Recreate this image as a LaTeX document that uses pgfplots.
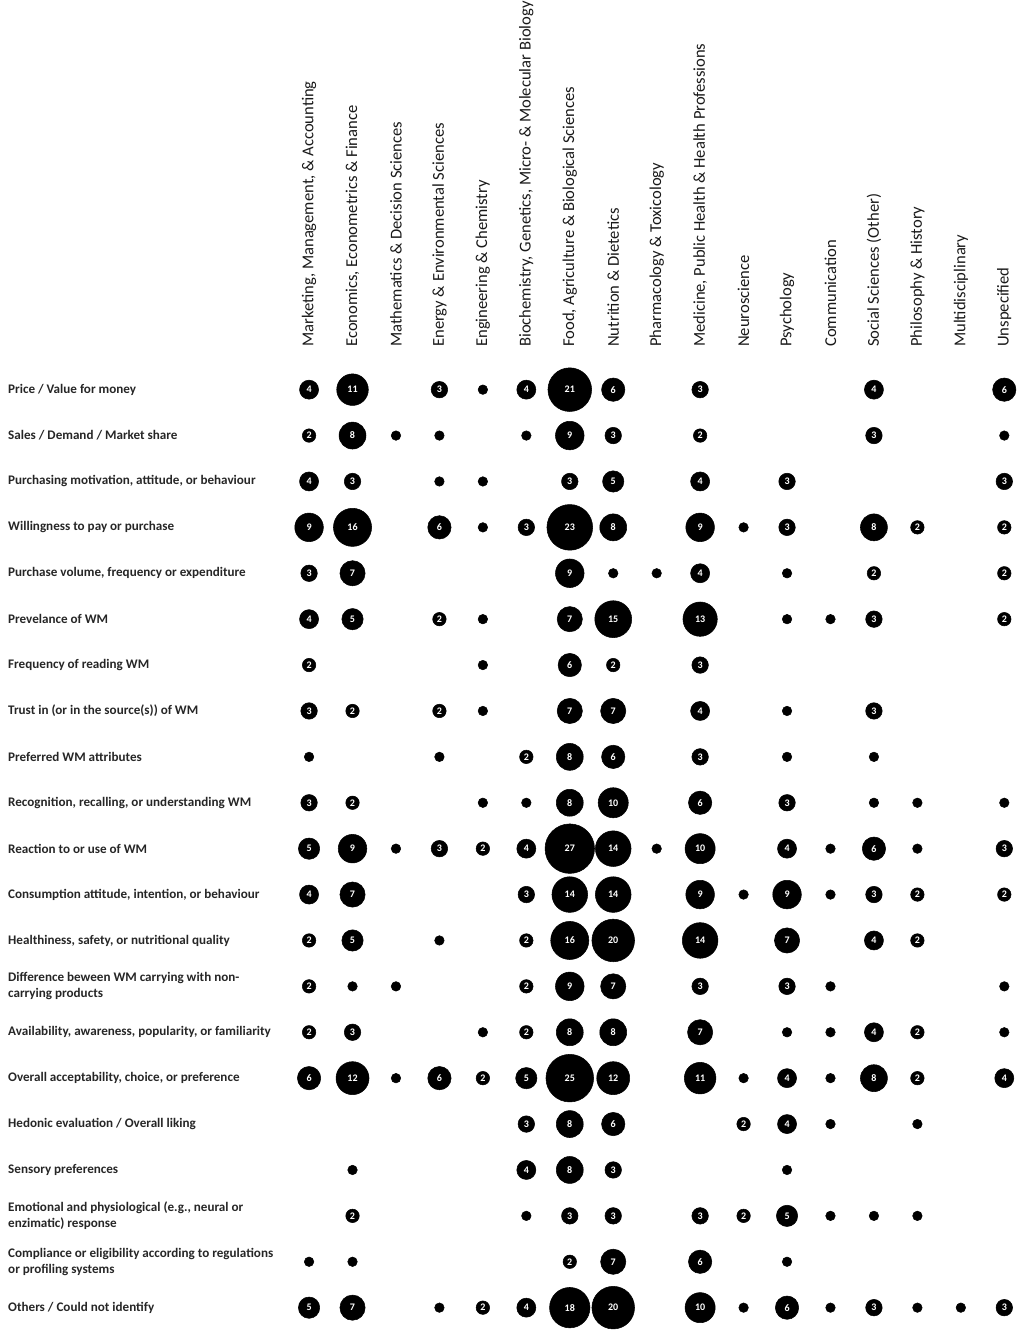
\documentclass[border=0pt]{standalone}
\usepackage{fontspec}
\setmainfont{Carlito}
\usepackage{pgfplots}
\usepackage{pgfplotstable}
\pgfplotsset{compat=1.18}
\pgfplotstableread{
x y v
0 0 4
1 0 11
3 0 3
4 0 1
5 0 4
6 0 21
7 0 6
9 0 3
13 0 4
16 0 6
0 1 2
1 1 8
2 1 1
3 1 1
5 1 1
6 1 9
7 1 3
9 1 2
13 1 3
16 1 1
0 2 4
1 2 3
3 2 1
4 2 1
6 2 3
7 2 5
9 2 4
11 2 3
16 2 3
0 3 9
1 3 16
3 3 6
4 3 1
5 3 3
6 3 23
7 3 8
9 3 9
10 3 1
11 3 3
13 3 8
14 3 2
16 3 2
0 4 3
1 4 7
6 4 9
7 4 1
8 4 1
9 4 4
11 4 1
13 4 2
16 4 2
0 5 4
1 5 5
3 5 2
4 5 1
6 5 7
7 5 15
9 5 13
11 5 1
12 5 1
13 5 3
16 5 2
0 6 2
4 6 1
6 6 6
7 6 2
9 6 3
0 7 3
1 7 2
3 7 2
4 7 1
6 7 7
7 7 7
9 7 4
11 7 1
13 7 3
0 8 1
3 8 1
5 8 2
6 8 8
7 8 6
9 8 3
11 8 1
13 8 1
0 9 3
1 9 2
4 9 1
5 9 1
6 9 8
7 9 10
9 9 6
11 9 3
13 9 1
14 9 1
16 9 1
0 10 5
1 10 9
2 10 1
3 10 3
4 10 2
5 10 4
6 10 27
7 10 14
8 10 1
9 10 10
11 10 4
12 10 1
13 10 6
14 10 1
16 10 3
0 11 4
1 11 7
5 11 3
6 11 14
7 11 14
9 11 9
10 11 1
11 11 9
12 11 1
13 11 3
14 11 2
16 11 2
0 12 2
1 12 5
3 12 1
5 12 2
6 12 16
7 12 20
9 12 14
11 12 7
13 12 4
14 12 2
0 13 2
1 13 1
2 13 1
5 13 2
6 13 9
7 13 7
9 13 3
11 13 3
12 13 1
16 13 1
0 14 2
1 14 3
4 14 1
5 14 2
6 14 8
7 14 8
9 14 7
11 14 1
12 14 1
13 14 4
14 14 2
16 14 1
0 15 6
1 15 12
2 15 1
3 15 6
4 15 2
5 15 5
6 15 25
7 15 12
9 15 11
10 15 1
11 15 4
12 15 1
13 15 8
14 15 2
16 15 4
5 16 3
6 16 8
7 16 6
10 16 2
11 16 4
12 16 1
14 16 1
1 17 1
5 17 4
6 17 8
7 17 3
11 17 1
1 18 2
5 18 1
6 18 3
7 18 3
9 18 3
10 18 2
11 18 5
12 18 1
13 18 1
14 18 1
0 19 1
1 19 1
6 19 2
7 19 7
9 19 6
11 19 1
0 20 5
1 20 7
3 20 1
4 20 2
5 20 4
6 20 18
7 20 20
9 20 10
10 20 1
11 20 6
12 20 1
13 20 3
14 20 1
15 20 1
16 20 3
}\bubbles
\begin{document}
\begin{tikzpicture}
\begin{axis}[
  x=32.48pt, y=34.31pt, y dir=reverse,
  xmin=-7.11, xmax=16.44, ymin=-0.9, ymax=20.68,
  axis line style={draw=none}, major tick length=0pt,
  xtick={0,...,16}, ytick={0,...,20},
  xticklabel pos=right,
  xticklabels={{Marketing, Management, \& Accounting},{Economics, Econometrics \& Finance},{Mathematics \& Decision Sciences},{Energy \& Environmental Sciences},{Engineering \& Chemistry},{Biochemistry, Genetics, Micro- \& Molecular Biology},{Food, Agriculture \& Biological Sciences},{Nutrition \& Dietetics},{Pharmacology \& Toxicology},{Medicine, Public Health \& Health Professions},{Neuroscience},{Psychology},{Communication},{Social Sciences (Other)},{Philosophy \& History},{Multidisciplinary},{Unspecified}},
  yticklabels={{Price / Value for money},{Sales / Demand / Market share},{Purchasing motivation, attitude, or behaviour},{Willingness to pay or purchase},{Purchase volume, frequency or expenditure},{Prevelance of WM},{Frequency of reading WM},{Trust in (or in the source(s)) of WM},{Preferred WM attributes},{Recognition, recalling, or understanding WM},{Reaction to or use of WM},{Consumption attitude, intention, or behaviour},{Healthiness, safety, or nutritional quality},{Difference beween WM carrying with non-\\carrying products},{Availability, awareness, popularity, or familiarity},{Overall acceptability, choice, or preference},{Hedonic evaluation / Overall liking},{Sensory preferences},{Emotional and physiological (e.g., neural or\\enzimatic) response},{Compliance or eligibility according to regulations\\or profiling systems},{Others / Could not identify}},
  xticklabel style={rotate=90, anchor=west, font=\fontsize{12.4}{14}\selectfont, text=black!90, inner sep=1pt},
  yticklabel style={anchor=west, align=left, font=\bfseries\fontsize{9.8}{12}\selectfont, text=black!85, xshift=2.5pt},
  clip=false,
]
\addplot[scatter, only marks, mark=*,
  scatter/use mapped color={draw=black, fill=black},
  visualization depends on={3.56*sqrt(\thisrow{v}) \as \rad},
  scatter/@pre marker code/.append style={/tikz/mark size=\rad},
] table[x=x, y=y] {\bubbles};
\addplot[only marks, mark=*, mark size=0pt, draw=none, fill=none,
  restrict expr to domain={\thisrow{v}}{1.5:100},
  point meta=explicit symbolic,
  nodes near coords={\pgfplotspointmeta},
  nodes near coords align=center,
  every node near coord/.append style={anchor=center, text=white, inner sep=0pt, font=\bfseries\fontsize{7.5}{8}\selectfont},
] table[x=x, y=y, meta=v] {\bubbles};
\end{axis}
\end{tikzpicture}
\end{document}
